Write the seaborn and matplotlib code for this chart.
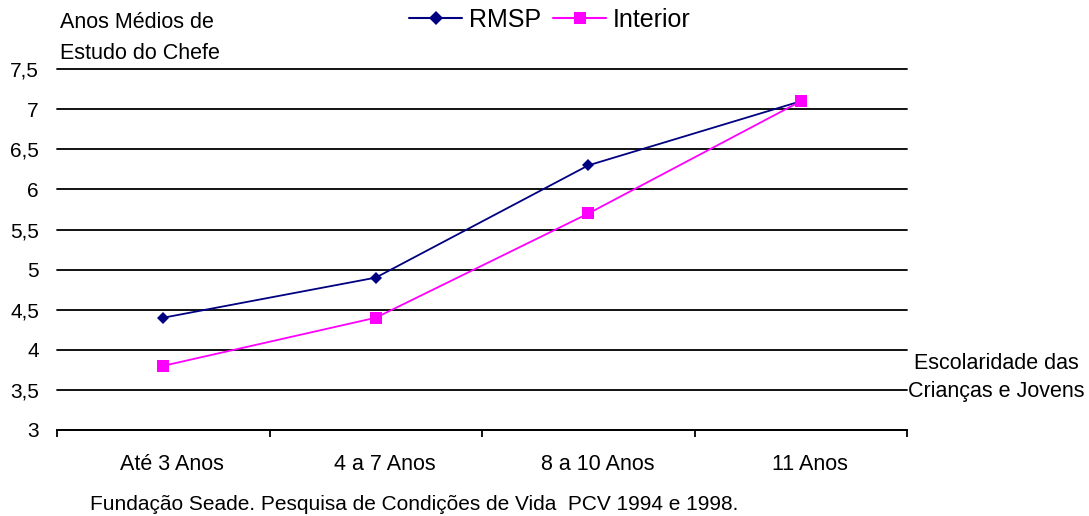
import matplotlib
matplotlib.use("Agg")
import matplotlib.pyplot as plt
import matplotlib.ticker as mticker
import matplotlib.transforms as mtransforms
from matplotlib import font_manager
from matplotlib.lines import Line2D
import seaborn as sns
import pandas as pd

categories = ["Até 3 Anos", "4 a 7 Anos", "8 a 10 Anos", "11 Anos"]
rmsp = [4.4, 4.9, 6.3, 7.1]
interior = [3.8, 4.4, 5.7, 7.1]
y_ticks = [3, 3.5, 4, 4.5, 5, 5.5, 6, 6.5, 7, 7.5]

df = pd.DataFrame({
    "categoria": categories * 2,
    "anos": rmsp + interior,
    "serie": ["RMSP"] * len(categories) + ["Interior"] * len(categories),
})

# keep the regular Liberation Sans, not the Narrow cut that shares its name
font_manager.fontManager.ttflist = [
    f for f in font_manager.fontManager.ttflist if "Narrow" not in f.fname
]

sns.set_style("white")
plt.rcParams["font.family"] = ["Liberation Sans", "DejaVu Sans"]
plt.rcParams["text.color"] = "black"
plt.rcParams["xtick.color"] = "black"
plt.rcParams["ytick.color"] = "black"

fig = plt.figure(figsize=(10.89, 5.16), dpi=100)
ax = fig.add_axes([0.0523, 0.1667, 0.7807, 0.6993])

sns.lineplot(data=df, x="categoria", y="anos", hue="serie", style="serie",
             palette={"RMSP": "#000080", "Interior": "#FF00FF"},
             markers={"RMSP": "D", "Interior": "s"}, dashes=False,
             markersize=8, markeredgewidth=0, linewidth=1.3, ax=ax, legend=False)
ax.lines[0].set_markersize(6.5)

ax.set_xlim(-0.5, len(categories) - 0.5)
ax.set_ylim(3, 7.5)
ax.set_yticks(y_ticks)
ax.yaxis.set_major_formatter(mticker.FuncFormatter(lambda v, p: f"{v:g}".replace(".", ",")))
ax.yaxis.grid(True, color="black", linewidth=1.3)
for gl in ax.get_ygridlines():
    gl.set_clip_on(False)
ax.set_axisbelow(True)

for s in ["top", "right", "left"]:
    ax.spines[s].set_visible(False)
ax.spines["bottom"].set_color("black")
ax.spines["bottom"].set_linewidth(1.3)

ax.set_xticks(range(len(categories)))
ax.set_xticklabels(categories, fontsize=15.5)
ax.set_xticks([i - 0.5 for i in range(len(categories) + 1)], minor=True)
ax.tick_params(axis="x", which="major", length=0, pad=17)
ax.tick_params(axis="x", which="minor", bottom=True, length=5, width=1.3,
               color="black", direction="out")
ax.tick_params(axis="y", length=0, labelsize=15, pad=13)
ax.set_xlabel("")
ax.set_ylabel("")
shift = mtransforms.ScaledTranslation(0.09, 0, fig.dpi_scale_trans)
for lab in ax.get_xticklabels():
    lab.set_transform(lab.get_transform() + shift)

fig.text(0.055, 0.946, "Anos Médios de", fontsize=15.5, va="baseline", ha="left")
fig.text(0.055, 0.886, "Estudo do Chefe", fontsize=15.5, va="baseline", ha="left")
fig.text(0.9146, 0.285, "Escolaridade das", fontsize=15.5, ha="center", va="baseline")
fig.text(0.9146, 0.231, "Crianças e Jovens", fontsize=15.5, ha="center", va="baseline")
fig.text(0.380, 0.011, "Fundação Seade. Pesquisa de Condições de Vida  PCV 1994 e 1998.",
         fontsize=15, ha="center", va="baseline")

handles = [
    Line2D([], [], color="#000080", marker="D", markersize=7, markeredgewidth=0, linewidth=1.5),
    Line2D([], [], color="#FF00FF", marker="s", markersize=9, markeredgewidth=0, linewidth=1.5),
]
fig.legend(handles, ["RMSP", "Interior"], loc="center", bbox_to_anchor=(0.505, 0.961),
           ncol=2, frameon=False, fontsize=18, handlelength=2.1, columnspacing=0.5,
           handletextpad=0.28, borderpad=0)

fig.savefig("out.png", dpi=100)
